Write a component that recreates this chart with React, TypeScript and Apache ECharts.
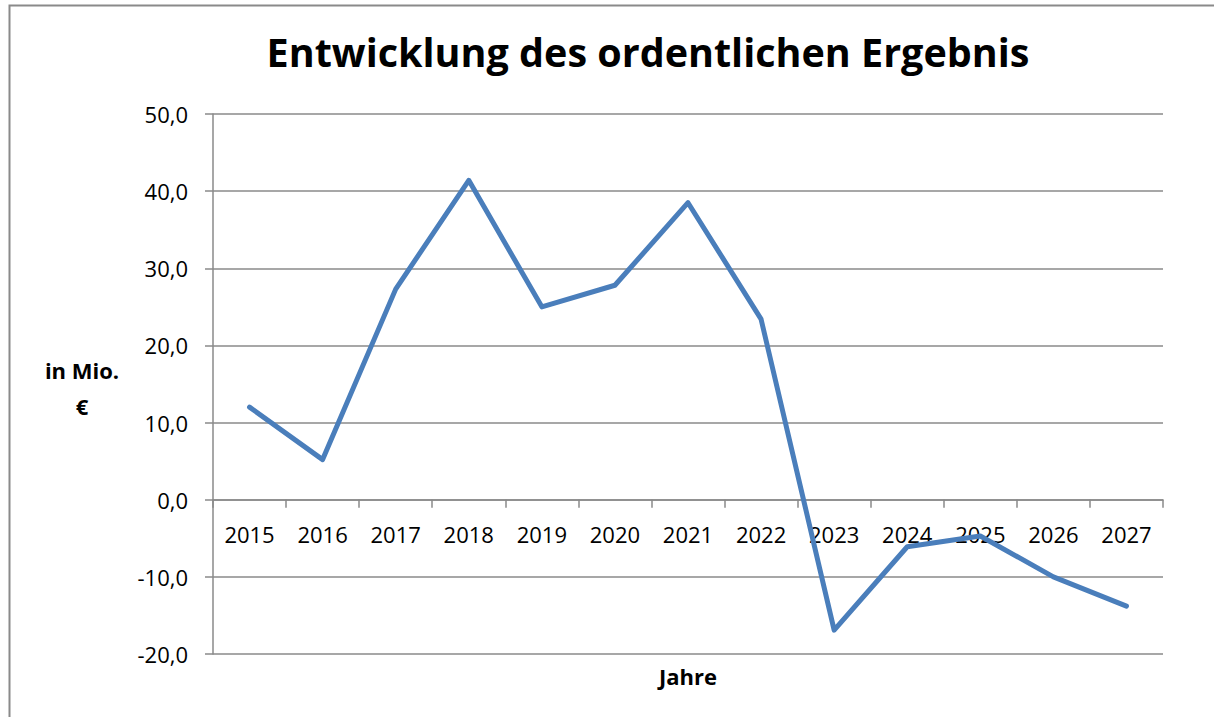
import React, { useEffect, useRef } from "react";
import * as echarts from "echarts";

const years = ["2015", "2016", "2017", "2018", "2019", "2020", "2021", "2022", "2023", "2024", "2025", "2026", "2027"];
const ergebnis = [12.0, 5.2, 27.3, 41.4, 25.0, 27.8, 38.5, 23.4, -16.9, -6.1, -4.7, -10.0, -13.8];
const yMin = -20;
const yMax = 50;
const yStep = 10;
const titleText = "Entwicklung des ordentlichen Ergebnis";
const yName = "in Mio.\n€";
const xName = "Jahre";

const FONT = "'Open Sans', Lato, sans-serif";
const GRID = "#8a8a8a";
const W = 1214;
const H = 717;
const GRID_TOP = 114;
const GRID_BOTTOM = 63;

export default function App() {
  const ref = useRef<HTMLDivElement>(null);
  useEffect(() => {
    if (!ref.current) return;
    const chart = echarts.init(ref.current, null, { renderer: "svg" });
    const plotH = H - GRID_TOP - GRID_BOTTOM;
    const zeroOffset = -((0 - yMin) / (yMax - yMin)) * plotH;
    chart.setOption({
      animation: false,
      backgroundColor: "#ffffff",
      textStyle: { fontFamily: FONT },
      title: {
        text: titleText,
        left: 643,
        top: 27,
        textAlign: "center",
        textStyle: { fontFamily: FONT, fontSize: 39.5, fontWeight: "bold", color: "#000" },
      },
      grid: { left: 213, right: 51, top: GRID_TOP, bottom: GRID_BOTTOM, containLabel: false },
      xAxis: {
        type: "category",
        data: years,
        boundaryGap: true,
        position: "bottom",
        offset: zeroOffset,
        axisLine: { onZero: false, lineStyle: { color: GRID, width: 1.5 } },
        axisTick: { show: true, length: 8, interval: 0, lineStyle: { color: GRID, width: 1.5 } },
        axisLabel: { interval: 0, margin: 23, fontSize: 22, color: "#000", fontFamily: FONT },
        splitLine: { show: false },
      },
      yAxis: {
        type: "value",
        min: yMin,
        max: yMax,
        interval: yStep,
        axisLine: { show: true, onZero: false, lineStyle: { color: GRID, width: 1.5 } },
        axisTick: { show: true, length: 8, lineStyle: { color: GRID, width: 1.5 } },
        axisLabel: {
          margin: 25,
          fontSize: 22,
          color: "#000",
          fontFamily: FONT,
          formatter: (v: number) => v.toFixed(1).replace(".", ","),
        },
        splitLine: { show: true, lineStyle: { color: GRID, width: 1.5 } },
      },
      series: [
        {
          type: "line",
          data: ergebnis,
          showSymbol: false,
          symbol: "none",
          lineStyle: { color: "#4a7ebb", width: 5, join: "round", cap: "round" },
          itemStyle: { color: "#4a7ebb" },
        },
      ],
      graphic: [
        {
          type: "rect",
          shape: { x: 9.5, y: 5.5, width: 1230, height: 730 },
          style: { fill: "none", stroke: "#8a8a8a", lineWidth: 2 },
          silent: true,
        },
        {
          type: "text",
          x: 82,
          y: 388,
          style: {
            text: yName,
            fontFamily: FONT,
            fontSize: 22,
            fontWeight: "bold",
            fill: "#000",
            align: "center",
            verticalAlign: "middle",
            lineHeight: 36,
          },
        },
        {
          type: "text",
          x: 688,
          y: 676,
          style: {
            text: xName,
            fontFamily: FONT,
            fontSize: 22,
            fontWeight: "bold",
            fill: "#000",
            align: "center",
            verticalAlign: "middle",
          },
        },
      ],
    });
    return () => chart.dispose();
  }, []);
  return (
    <div
      ref={ref}
      style={{ position: "absolute", left: 0, top: 0, width: W, height: H, overflow: "hidden" }}
    />
  );
}
